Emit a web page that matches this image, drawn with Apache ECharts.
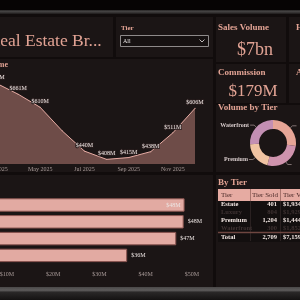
<!DOCTYPE html>
<html><head><meta charset="utf-8">
<script src="https://cdn.jsdelivr.net/npm/echarts@6/dist/echarts.min.js"></script>
<style>html,body{margin:0;padding:0;background:#0f0b0b;overflow:hidden}#c{width:300px;height:300px;}</style>
</head><body><div id="c"></div>
<script>
// ---- data ----
const months = ['Mar 2025','Apr 2025','May 2025','Jun 2025','Jul 2025','Aug 2025','Sep 2025','Oct 2025','Nov 2025','Dec 2025'];
const monthlyVolume = [704, 661, 610, 518, 440, 408, 415, 438, 511, 606];
const hiddenLabelMonths = ['Jun 2025'];
const commissionTiers = ['Estate','Luxury','Waterfront','Premium'];
const commissionValues = [48.4, 48.2, 46.6, 36.0];
const commissionTicks = [0, 10, 20, 30, 40, 50];
const donutTiers = ['Estate','Luxury','Premium','Waterfront'];
const donutVolume = [1934, 1929, 1444, 1852];
const tableTiers = ['Estate','Luxury','Premium','Waterfront'];
const tableSold = [401, 804, 1204, 300];
const tableVolume = [1934, 1929, 1444, 1852];
const kpiSales = '$7bn';
const kpiCommission = '$179M';

// ---- style ----
const SERIF = "'Liberation Serif','DejaVu Serif',serif";
const ACC = '#e2a394';
const PANEL = '#1b1515';
const AXIS = '#a89a98';

function rect(x,y,w,h,fill,z){return {type:'rect',shape:{x:x,y:y,width:w,height:h},style:{fill:fill},silent:true,z:z===undefined?-100:z};}
function txt(x,y,text,size,fill,extra){
  return {type:'text',x:x,y:y,silent:true,z:100,style:Object.assign({text:text,fontSize:size,fill:fill,fontFamily:SERIF,align:'left',verticalAlign:'middle'},extra||{})};
}
const g = [];
g.push(rect(0,0,300,10,'#060404'));
g.push({type:'rect',shape:{x:0,y:10,width:300,height:4},silent:true,z:-100,style:{fill:new echarts.graphic.LinearGradient(0,0,0,1,[{offset:0,color:'#2a2828'},{offset:0.4,color:'#454343'},{offset:1,color:'#1d1919'}])}});
g.push(rect(0,14,300,273,'#110c0c'));
g.push(rect(-5,17,118,40,PANEL));
g.push(rect(116,17,97,40,PANEL));
g.push(rect(-5,59,218,113,PANEL));
g.push(rect(-5,175,218,112,PANEL));
g.push(rect(216,17,70,45,PANEL));
g.push(rect(289,17,20,45,PANEL));
g.push(rect(216,64,70,39,PANEL));
g.push(rect(289,64,20,39,PANEL));
g.push(rect(216,105,90,67,PANEL));
g.push(rect(216,175,90,112,PANEL));
g.push({type:'rect',shape:{x:0,y:287,width:300,height:13},silent:true,z:-100,style:{fill:new echarts.graphic.LinearGradient(0,0,0,1,[{offset:0,color:'#4a4848'},{offset:0.25,color:'#5e5c5c'},{offset:0.4,color:'#2a2828'},{offset:1,color:'#141212'}])}});

g.push(txt(-11.5,41,'Real Estate Br...',17.5,ACC));
g.push(txt(121,28,'Tier',7,ACC,{fontWeight:'bold'}));
g.push({type:'rect',shape:{x:120.5,y:35.5,width:88,height:11},silent:true,z:50,style:{fill:'#161111',stroke:'#8e8a8a',lineWidth:1}});
g.push(txt(123,41,'All',6,'#e8e4e4'));
g.push({type:'polyline',shape:{points:[[199.5,39.5],[202,42],[204.5,39.5]]},silent:true,z:60,style:{stroke:'#bdb8b8',lineWidth:1,fill:null}});
g.push(txt(218,28,'Sales Volume',9,ACC,{fontWeight:'bold'}));
g.push(txt(255,50,kpiSales,18,ACC,{align:'center'}));
g.push(txt(296,28,'Homes Sold',9,ACC,{fontWeight:'bold'}));
g.push(txt(218,73,'Commission',9,ACC,{fontWeight:'bold'}));
g.push(txt(253,92,kpiCommission,17,ACC,{align:'center'}));
g.push(txt(296,73,'Avg Price',9,ACC,{fontWeight:'bold'}));
g.push(txt(218,108,'Volume by Tier',9,ACC,{fontWeight:'bold'}));
g.push(txt(8,65,'Sales Volume',8,ACC,{fontWeight:'bold',align:'right'}));

g.push(txt(218,183,'By Tier',9,ACC,{fontWeight:'bold'}));
g.push(rect(218,189,90,12,'#e6aba2',20));
g.push(rect(218,201,90,41,'#130f0f',-50));
const colX = [221, 277, 283];
const hdr = ['Tier','Tier Sold','Tier Volume'];
g.push(txt(colX[0],195,hdr[0],7,'#4a2a28'));
g.push(txt(252,195,hdr[1],7,'#4a2a28'));
g.push(txt(colX[2],195,hdr[2],7,'#4a2a28'));
[250.5,280.5].forEach(function(x){
  g.push({type:'line',shape:{x1:x,y1:189,x2:x,y2:201},silent:true,z:30,style:{stroke:'#a9746d',lineWidth:1}});
  g.push({type:'line',shape:{x1:x,y1:201,x2:x,y2:241},silent:true,z:30,style:{stroke:'#2a2121',lineWidth:1}});
});
const fmt = function(n){return n.toLocaleString('en-US');};
tableTiers.forEach(function(t,i){
  const y = 204.5 + i*7.8;
  const c = i%2===0 ? '#f2e6e2' : '#3e3232';
  g.push(txt(colX[0],y,t,6.5,c,{fontWeight:'bold'}));
  g.push(txt(colX[1],y,fmt(tableSold[i]),6.5,c,{fontWeight:'bold',align:'right'}));
  g.push(txt(colX[2],y,'$'+fmt(tableVolume[i])+',000,000',6.5,c,{fontWeight:'bold'}));
});
g.push({type:'line',shape:{x1:218,y1:232.5,x2:300,y2:232.5},silent:true,z:30,style:{stroke:'#6e4640',lineWidth:1.5}});
const totSold = tableSold.reduce(function(a,b){return a+b;},0);
const totVol = tableVolume.reduce(function(a,b){return a+b;},0);
g.push(txt(colX[0],237,'Total',6.5,'#f2e6e2',{fontWeight:'bold'}));
g.push(txt(colX[1],237,fmt(totSold),6.5,'#f2e6e2',{fontWeight:'bold',align:'right'}));
g.push(txt(colX[2],237,'$'+fmt(totVol)+',000,000',6.5,'#f2e6e2',{fontWeight:'bold'}));

const chart = echarts.init(document.getElementById('c'), null, {renderer:'canvas'});
const option = {
  backgroundColor:'#0f0b0b',
  animation:false,
  textStyle:{fontFamily:SERIF},
  graphic:{elements:g},
  grid:[
    {left:-4,right:105,top:79,bottom:136,containLabel:false,outerBoundsMode:'none'},
    {left:-39.5,right:108,top:196.6,bottom:36.2,containLabel:false,outerBoundsMode:'none'}
  ],
  xAxis:[
    {type:'category',gridIndex:0,data:months,boundaryGap:false,
     axisLine:{show:false},axisTick:{show:false},splitLine:{show:false},
     axisLabel:{interval:1,fontSize:6,color:AXIS,margin:2,fontFamily:SERIF,hideOverlap:false}},
    {type:'value',gridIndex:1,min:commissionTicks[0],max:commissionTicks[commissionTicks.length-1],
     interval:commissionTicks[1]-commissionTicks[0],
     axisLine:{show:false},axisTick:{show:false},splitLine:{show:false},
     axisLabel:{fontSize:6,color:AXIS,margin:8,fontFamily:SERIF,formatter:function(v){return '$'+v+'M';}}}
  ],
  yAxis:[
    {type:'value',gridIndex:0,min:390,max:720,show:false},
    {type:'category',gridIndex:1,data:commissionTiers,inverse:true,
     axisLine:{show:false},axisTick:{show:false},axisLabel:{show:false}}
  ],
  series:[
    {type:'line',xAxisIndex:0,yAxisIndex:0,symbol:'circle',symbolSize:1,showSymbol:true,z:5,
     itemStyle:{color:'#e6aca4'},
     data:monthlyVolume.map(function(v,i){return {value:v,label:{show:hiddenLabelMonths.indexOf(months[i])<0}};}),
     lineStyle:{color:'#e6aca4',width:1},
     areaStyle:{color:'#6e4c48',opacity:1},
     label:{show:true,position:'top',distance:2,fontSize:6,color:'#f0e8e6',fontFamily:SERIF,
       textBorderColor:'#2a1e1e',textBorderWidth:1.5,formatter:function(p){return '$'+p.value+'M';}}},
    {type:'bar',xAxisIndex:1,yAxisIndex:1,barCategoryGap:'20%',z:5,
     data:commissionValues.map(function(v,i){return {value:v,label:{position:i===0?'insideRight':'right'}};}),
     itemStyle:{color:'#e2aaa2',borderColor:'#8a5550',borderWidth:1},
     label:{show:true,fontSize:6,color:'#ece4e2',fontFamily:SERIF,distance:4,
       formatter:function(p){return '$'+Math.round(p.value)+'M';}}},
    {type:'pie',center:[273,143],radius:[14,23],startAngle:90,clockwise:true,z:5,
     data:donutTiers.map(function(t,i){return {name:t,value:donutVolume[i]};}),
     color:['#e6a596','#cf93ad','#f0c3a2','#c38fb3'],
     itemStyle:{borderWidth:0},
     label:{show:true,fontSize:6,fontWeight:'bold',color:'#d8cccc',fontFamily:SERIF,distanceToLabelLine:1},
     labelLine:{show:true,length:3,length2:4,lineStyle:{color:'#9a8a8a',width:0.8}}}
  ]
};
chart.setOption(option);
</script>
</body></html>
